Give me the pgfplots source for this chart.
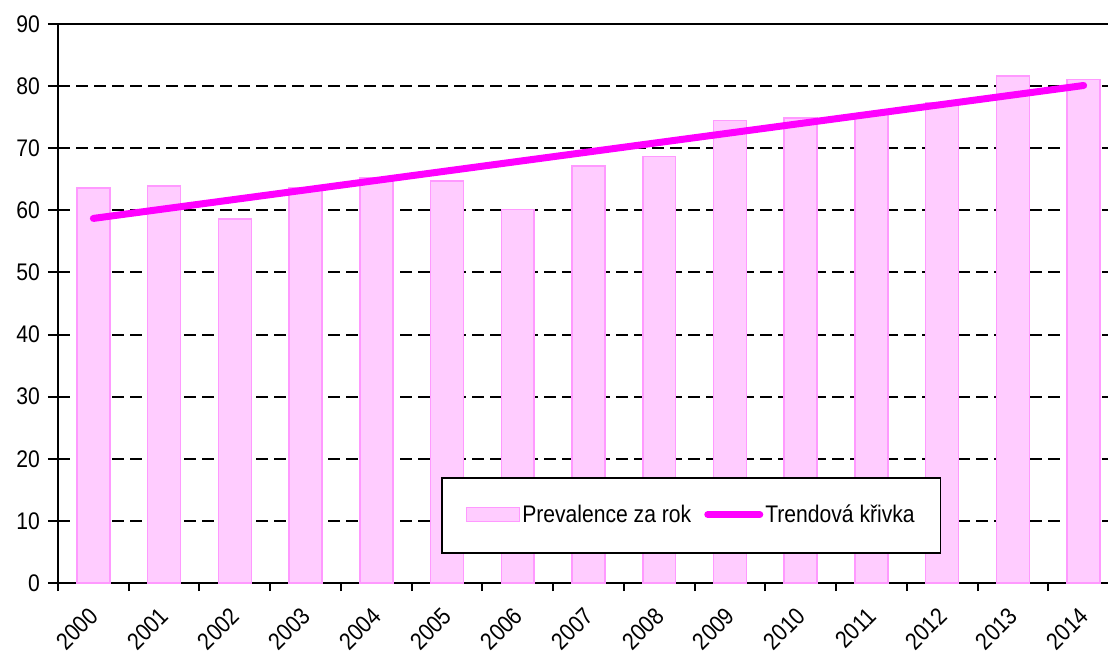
\documentclass[border=0pt]{standalone}
\usepackage{pgfplots}
\pgfplotsset{compat=1.18}
\usepackage{fontspec}
\setmainfont[FakeStretch=0.88]{Liberation Sans}

\definecolor{barfill}{RGB}{255,204,255}
\definecolor{bardraw}{RGB}{255,153,255}
\definecolor{trend}{RGB}{255,0,255}

\begin{document}
\fontsize{24bp}{28bp}\selectfont
\begin{tikzpicture}
\path[use as bounding box] (0,0) rectangle (1108bp,652bp);
\begin{axis}[
    at={(58bp,69bp)}, anchor=south west,
    width=1061bp, height=559bp, scale only axis,
    xmin=-0.5, xmax=14.5,
    ymin=0, ymax=90,
    axis x line=bottom, axis y line=left,
    axis line style={line width=2.5bp, -},
    xtick={0,...,14},
    xticklabels={2000,2001,2002,2003,2004,2005,2006,2007,2008,2009,2010,2011,2012,2013,2014},
    minor xtick={-0.5,0.5,...,14.5},
    x tick label style={rotate=45, anchor=north east, xshift=-5bp, yshift=3bp,
        font=\fontsize{24bp}{28bp}\selectfont},
    ytick={0,10,...,80},
    extra y ticks={90},
    extra y tick style={grid style={solid, line width=2.5bp}},
    y tick label style={font=\fontsize{24bp}{28bp}\selectfont},
    /pgf/number format/assume math mode=true,
    ymajorgrids,
    grid style={black, line width=2bp, dash pattern=on 12bp off 6bp},
    tick align=outside,
    major x tick style={draw=none},
    minor x tick style={black, line width=2bp},
    minor tick length=8bp,
    y tick style={black, line width=2bp},
    major tick length=10bp,
    legend columns=2,
    legend style={at={(0.361,0.052)}, anchor=south west, draw=black, line width=1.5bp,
        font=\fontsize{24bp}{28bp}\selectfont, inner xsep=24bp, inner ysep=25bp,
        /tikz/every even column/.append style={column sep=11bp}},
    legend cell align=left,
]
\addplot[ybar, bar width=0.466, fill=barfill, draw=bardraw, line width=1.5bp,
    legend image code/.code={\draw[fill=barfill, draw=bardraw, line width=1.5bp] (0bp,-6bp) rectangle (53bp,8bp);}]
coordinates {
    (0,63.6) (1,63.9) (2,58.6) (3,63.6) (4,65.2) (5,64.7) (6,60.1) (7,67.1)
    (8,68.7) (9,74.5) (10,74.9) (11,75.4) (12,77.3) (13,81.6) (14,81.1)
};
\addlegendentry{Prevalence za rok}
\addplot[trend, line width=7bp, line cap=round, mark=none,
    legend image code/.code={\draw[trend, line width=7bp, line cap=round] (2bp,1bp) -- (54bp,1bp);}]
coordinates {(0,58.7) (14,80.1)};
\addlegendentry{Trendová křivka}
\end{axis}
\end{tikzpicture}
\end{document}
